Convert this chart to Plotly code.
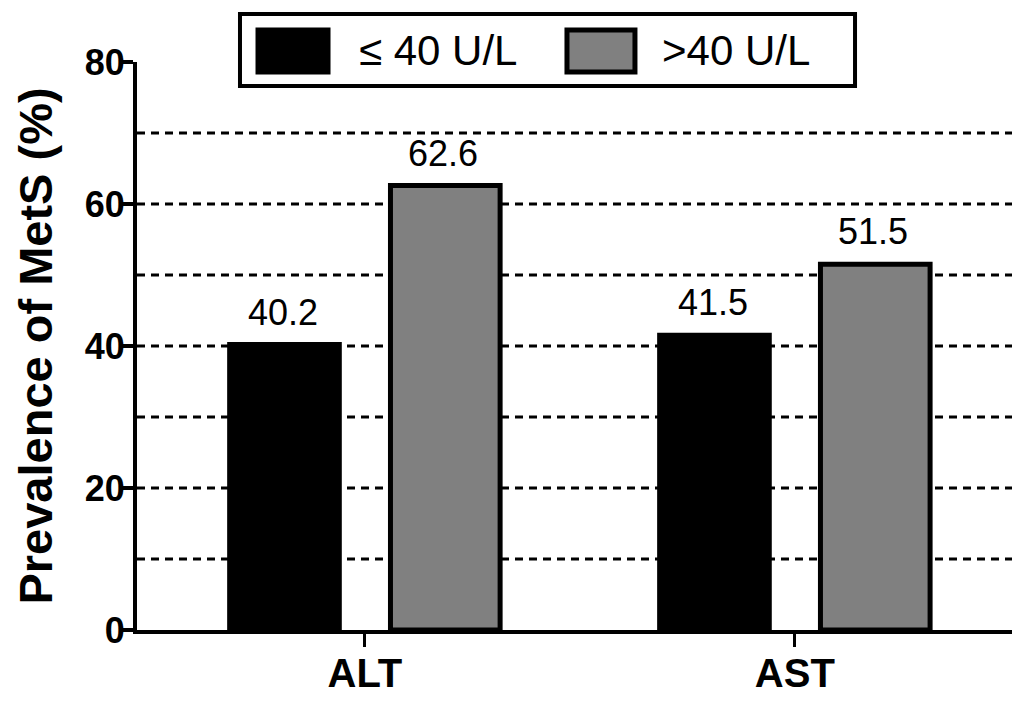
import plotly.graph_objects as go

categories = ["ALT", "AST"]
series_names = ["\u2264 40 U/L", ">40 U/L"]
low_values = [40.2, 41.5]
high_values = [62.6, 51.5]
y_ticks = [0, 20, 40, 60, 80]
grid_values = [10, 20, 30, 40, 50, 60, 70]

FONT = "Arial, Liberation Sans, sans-serif"
colors = ["#000000", "#808080"]
bar_width = 0.255
offsets = [-0.3145, 0.0595]
label_shift = [-82, 78]

fig = go.Figure()
for name, vals, col, off in zip(series_names, [low_values, high_values], colors, offsets):
    fig.add_trace(go.Bar(
        x=categories, y=vals, name=name,
        marker=dict(color=col, line=dict(color="#000000", width=5)),
        width=bar_width, offset=off, showlegend=False,
    ))

# value labels
for vals, xs in zip([low_values, high_values], label_shift):
    for c, v in zip(categories, vals):
        fig.add_annotation(x=c, y=v, text=f"{v:.1f}", showarrow=False,
                           xshift=xs, yshift=10, yanchor="bottom",
                           font=dict(family=FONT, size=36, color="#000000"))

# dotted gridlines
for g in grid_values:
    fig.add_shape(type="line", xref="paper", x0=0, x1=1, yref="y", y0=g, y1=g,
                  line=dict(color="#000000", width=3, dash="8px,6px"), layer="below")

# custom legend
fig.add_shape(type="rect", xref="paper", yref="paper", x0=0.1177, x1=0.8206, y0=0.9577, y1=1.0845,
              line=dict(color="#000000", width=4), fillcolor="#ffffff")
sw = [(0.1383, 0.2183), (0.4914, 0.5691)]
tx = [0.2514, 0.5977]
for (a, b), col, t, name in zip(sw, colors, tx, series_names):
    fig.add_shape(type="rect", xref="paper", yref="paper", x0=a, x1=b, y0=0.9824, y1=1.0563,
                  line=dict(color="#000000", width=5), fillcolor=col)
    fig.add_annotation(xref="paper", yref="paper", x=t, y=1.0194, text=name, showarrow=False,
                       xanchor="left", yanchor="middle",
                       font=dict(family=FONT, size=42, color="#000000"))

fig.update_layout(
    width=1024, height=703,
    margin=dict(l=137, r=12, t=62, b=73),
    paper_bgcolor="#ffffff", plot_bgcolor="#ffffff",
    barmode="group",
    font=dict(family=FONT, color="#000000"),
)
fig.update_xaxes(
    type="category", range=[-0.53, 1.505], automargin=False,
    showline=True, linecolor="#000000", linewidth=4,
    ticks="outside", ticklen=13, tickwidth=3, tickcolor="#000000",
    tickfont=dict(family=FONT, size=40, color="#000000", weight="bold"),
    ticklabelstandoff=-8,
    showgrid=False, zeroline=False,
)
fig.update_yaxes(
    range=[0, 80], tickvals=y_ticks, automargin=False,
    showline=True, linecolor="#000000", linewidth=4,
    ticks="outside", ticklen=11, tickwidth=4, tickcolor="#000000",
    tickfont=dict(family=FONT, size=36, color="#000000", weight="bold"),
    ticklabelstandoff=-10,
    showgrid=False, zeroline=False,
    title=dict(text="Prevalence of MetS (%)", standoff=18,
               font=dict(family=FONT, size=47, color="#000000", weight="bold")),
)

fig.write_html("out.html", config={"displayModeBar": False},
               post_script="document.body.style.margin='0';document.body.style.padding='0';document.body.style.overflow='hidden';")
